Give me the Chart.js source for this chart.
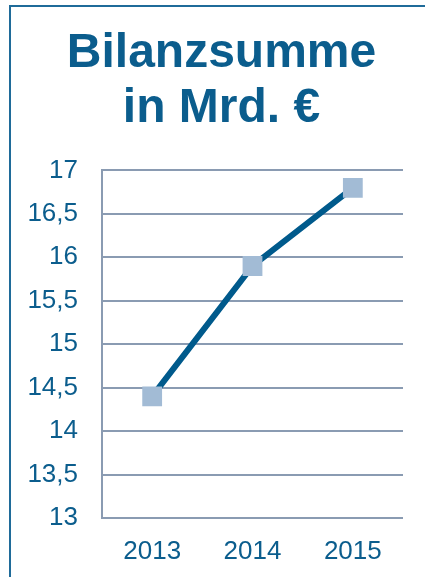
<!DOCTYPE html>
<html>
<head>
<meta charset="utf-8">
<script src="https://cdn.jsdelivr.net/npm/chart.js@4"></script>
<style>
    html, body { margin: 0; padding: 0; background: #fff; }
    body { width: 425px; height: 577px; position: relative; overflow: hidden; }
    #frame {
        position: absolute; left: 9px; top: 5px; width: 430px; height: 600px;
        border-top: 2px solid #1f6b99; border-left: 2px solid #1f6b99;
    }
    #wrap { position: absolute; left: 0; top: 0; width: 425px; height: 577px; }
</style>
</head>
<body>
<div id="frame"></div>
<div id="wrap"><canvas id="bilanzChart"></canvas></div>
<script>
const years = ['2013', '2014', '2015'];
const bilanzsumme = [14.4, 15.9, 16.8];
const titleLines = ['Bilanzsumme', 'in Mrd. €'];

const blue = '#0b5d8d';
const gridColor = '#8a9bb2';
const fontFamily = '"Liberation Sans", Arial, sans-serif';

window.renderBilanzChart = function () {
    const ctx = document.getElementById('bilanzChart');

    window.bilanzChartInstance = new Chart(ctx, {
        type: 'line',
        data: {
            labels: years,
            datasets: [{
                label: 'Bilanzsumme',
                data: bilanzsumme,
                borderColor: '#005a8c',
                borderWidth: 6,
                pointStyle: 'rect',
                pointRadius: 14,
                pointBackgroundColor: '#a2bbd5',
                pointBorderWidth: 0,
                tension: 0
            }]
        },
        options: {
            responsive: true,
            maintainAspectRatio: false,
            animation: false,
            layout: {
                padding: { left: 20, right: 2, top: 0, bottom: 12 }
            },
            plugins: {
                legend: { display: false },
                tooltip: { enabled: false },
                title: {
                    display: true,
                    text: titleLines,
                    color: blue,
                    font: { family: fontFamily, size: 48, weight: 'bold', lineHeight: 1.15 },
                    padding: { top: 26, bottom: 34 }
                }
            },
            scales: {
                x: {
                    offset: true,
                    afterFit: (scale) => { scale.height = 47; },
                    grid: { display: false },
                    border: { display: false },
                    ticks: {
                        color: blue,
                        padding: 10,
                        font: { family: fontFamily, size: 26 }
                    }
                },
                y: {
                    min: 13,
                    max: 17,
                    afterFit: (scale) => { scale.width = 82; },
                    grid: { color: gridColor, lineWidth: 2, drawTicks: false },
                    border: { display: true, color: gridColor, width: 2 },
                    ticks: {
                        stepSize: 0.5,
                        color: blue,
                        padding: 24,
                        font: { family: fontFamily, size: 26 },
                        callback: (value) => String(value).replace('.', ',')
                    }
                },
                // empty spacer on the right so the plot ends where the original does
                spacer: {
                    type: 'linear',
                    position: 'right',
                    afterFit: (scale) => { scale.width = 20; },
                    grid: { display: false },
                    border: { display: false },
                    ticks: { display: false }
                }
            }
        }
    });
};

window.renderBilanzChart();
</script>
</body>
</html>
